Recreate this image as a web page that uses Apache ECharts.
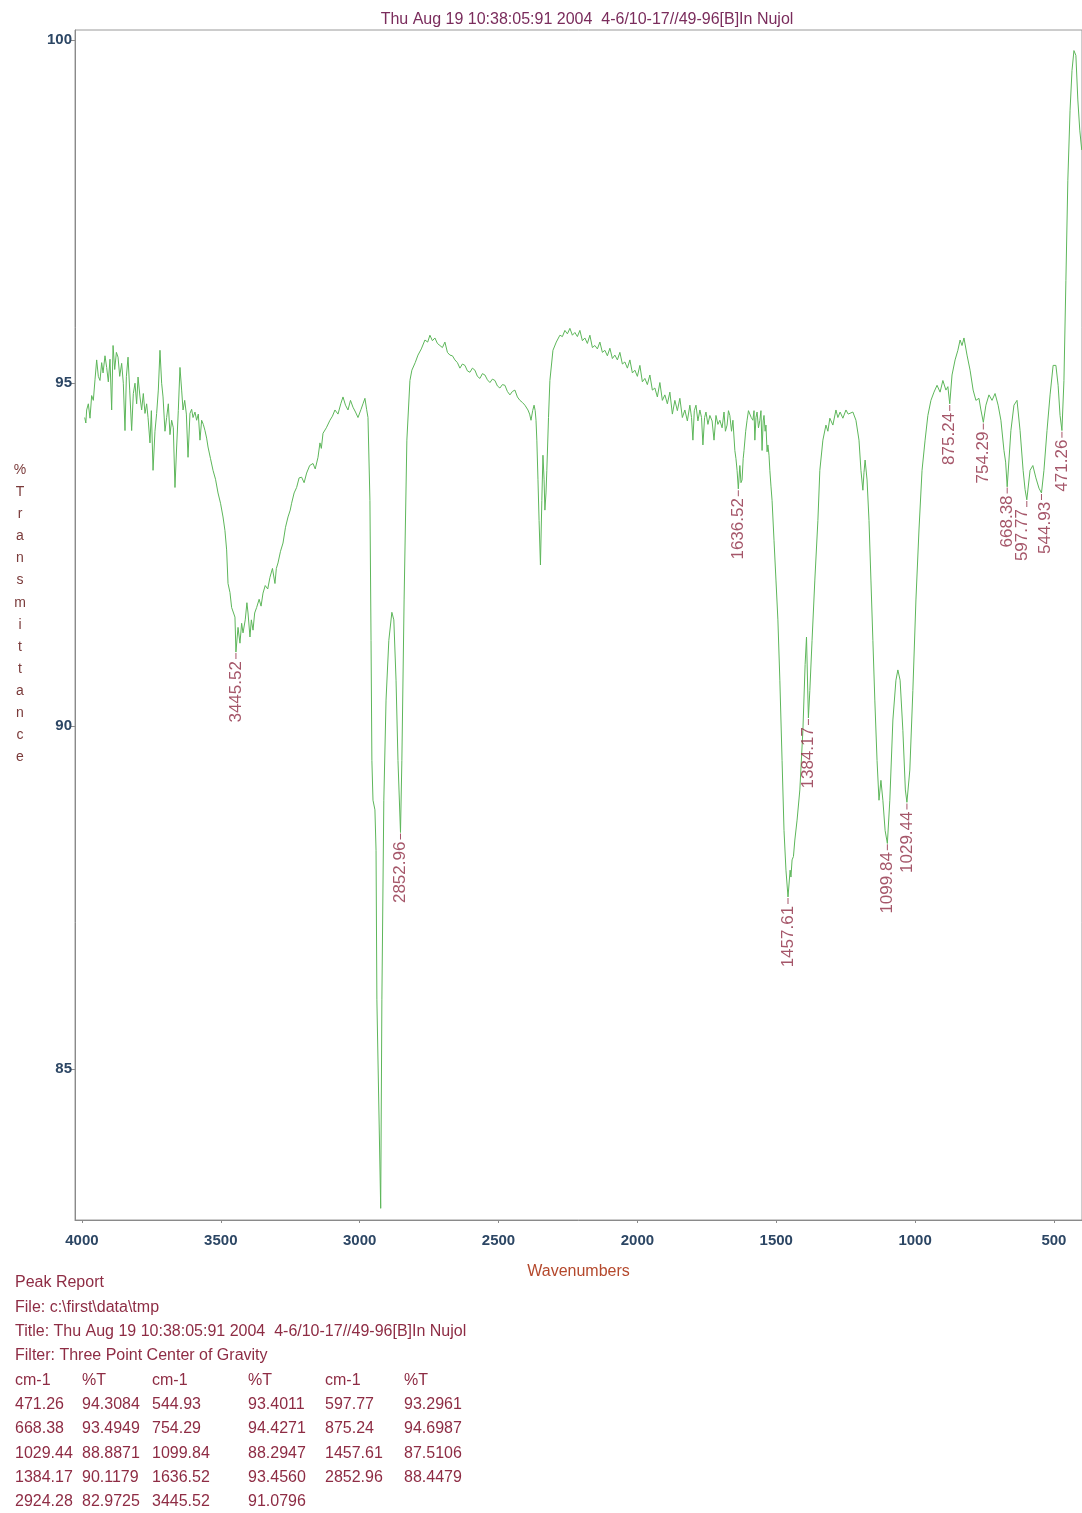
<!DOCTYPE html>
<html>
<head>
<meta charset="utf-8">
<script src="https://cdn.jsdelivr.net/npm/echarts@6/dist/echarts.min.js"></script>
<style>
  html, body { margin: 0; padding: 0; background: #fff; }
  #chart { width: 1082px; height: 1513px; }
</style>
</head>
<body>
<div id="chart"></div>
<script>
// axis ticks
const xTicks = [4000, 3500, 3000, 2500, 2000, 1500, 1000, 500];
const yTicks = [85, 90, 95, 100];

// spectrum: [cm-1, %T]
const spectrum = [
  [3990,94.50],[3986,94.42],[3983,94.61],[3977,94.70],[3971,94.49],[3965,94.82],[3959,94.75],[3953,95.05],
  [3947,95.34],[3941,95.10],[3935,95.04],[3929,95.30],[3924,95.15],[3917,95.40],[3911,95.23],[3905,95.02],
  [3899,95.35],[3893,94.61],[3888,95.55],[3882,95.20],[3876,95.45],[3870,95.38],[3864,95.10],[3857,95.29],
  [3851,95.00],[3845,94.31],[3840,95.10],[3834,95.38],[3828,94.90],[3821,94.31],[3815,94.85],[3809,95.00],
  [3803,94.70],[3798,95.09],[3791,94.80],[3785,94.61],[3779,94.85],[3773,94.56],[3767,94.70],[3762,94.50],
  [3755,94.13],[3750,94.60],[3744,93.73],[3737,94.30],[3731,94.56],[3725,94.90],[3719,95.48],[3713,95.00],
  [3708,94.80],[3701,94.30],[3695,94.50],[3689,94.70],[3683,94.25],[3677,94.46],[3671,94.35],[3665,93.48],
  [3659,94.07],[3653,94.60],[3647,95.23],[3641,94.90],[3636,94.61],[3630,94.75],[3624,94.55],[3618,93.92],
  [3611,94.56],[3605,94.62],[3600,94.50],[3593,94.58],[3587,94.46],[3581,94.55],[3575,94.17],[3569,94.46],
  [3563,94.40],[3557,94.31],[3551,94.20],[3546,94.07],[3537,93.90],[3528,93.73],[3519,93.60],[3510,93.40],
  [3501,93.25],[3492,93.05],[3485,92.85],[3479,92.57],[3474,92.08],[3467,91.95],[3461,91.73],[3455,91.75],
  [3449,91.59],[3445.52,91.08],[3438,91.44],[3431,91.21],[3425,91.50],[3420,91.36],[3412,91.55],[3406,91.80],
  [3402,91.65],[3395,91.30],[3390,91.55],[3384,91.40],[3378,91.65],[3371,91.73],[3362,91.85],[3355,91.75],
  [3348,91.94],[3340,92.05],[3331,92.00],[3323,92.17],[3314,92.30],[3305,92.08],[3300,92.30],[3294,92.38],
  [3285,92.55],[3276,92.67],[3267,92.90],[3258,93.05],[3250,93.15],[3245,93.25],[3236,93.40],[3227,93.48],
  [3218,93.62],[3209,93.63],[3200,93.55],[3191,93.69],[3180,93.80],[3168,93.83],[3160,93.75],[3150,93.92],
  [3143,94.13],[3138,94.05],[3132,94.27],[3120,94.35],[3107,94.46],[3098,94.52],[3089,94.61],[3078,94.55],
  [3068,94.70],[3060,94.80],[3051,94.68],[3042,94.61],[3033,94.75],[3024,94.65],[3015,94.58],[3006,94.50],
  [2995,94.62],[2988,94.70],[2981,94.78],[2975,94.62],[2970,94.50],[2963,93.29],[2959,91.25],[2956,89.50],
  [2952,88.92],[2945,88.78],[2941,88.19],[2938,86.01],[2924.28,82.97],[2920,86.01],[2913,88.92],[2905,90.38],
  [2895,91.25],[2884,91.66],[2877,91.55],[2869,90.67],[2862,89.50],[2852.96,88.45],[2848,89.50],[2840,91.84],
  [2830,94.17],[2819,95.04],[2812,95.19],[2800,95.30],[2790,95.41],[2778,95.50],[2765,95.63],[2755,95.60],
  [2747,95.70],[2738,95.62],[2729,95.66],[2720,95.58],[2711,95.55],[2702,95.52],[2693,95.60],[2684,95.45],
  [2675,95.41],[2666,95.40],[2657,95.34],[2648,95.30],[2639,95.22],[2630,95.28],[2621,95.26],[2612,95.18],
  [2603,95.16],[2594,95.22],[2585,95.19],[2576,95.10],[2567,95.07],[2558,95.14],[2549,95.12],[2540,95.05],
  [2531,95.01],[2522,95.06],[2513,95.04],[2504,94.96],[2495,94.93],[2486,94.98],[2477,94.97],[2468,94.88],
  [2459,94.83],[2450,94.88],[2441,94.90],[2432,94.80],[2423,94.75],[2414,94.72],[2405,94.68],[2394,94.61],
  [2388,94.55],[2383,94.46],[2377,94.60],[2372,94.68],[2368,94.60],[2365,94.46],[2362,94.17],[2358,93.60],
  [2354,93.00],[2349,92.35],[2344,93.29],[2340,93.95],[2336,93.60],[2333,93.15],[2329,93.40],[2326,93.73],
  [2320,94.50],[2315,95.04],[2304,95.48],[2292,95.60],[2279,95.70],[2270,95.68],[2261,95.77],[2252,95.72],
  [2243,95.80],[2234,95.70],[2225,95.74],[2216,95.68],[2207,95.77],[2198,95.62],[2189,95.66],[2180,95.58],
  [2171,95.70],[2162,95.52],[2153,95.55],[2144,95.50],[2135,95.60],[2126,95.45],[2117,95.48],[2108,95.40],
  [2099,95.51],[2090,95.36],[2081,95.41],[2072,95.34],[2063,95.45],[2054,95.28],[2045,95.31],[2036,95.22],
  [2027,95.34],[2018,95.15],[2009,95.19],[2000,95.10],[1991,95.26],[1982,95.02],[1973,95.07],[1964,94.98],
  [1955,95.12],[1946,94.90],[1937,94.93],[1928,94.80],[1919,95.01],[1910,94.75],[1901,94.83],[1892,94.70],
  [1883,94.87],[1874,94.55],[1865,94.75],[1856,94.60],[1847,94.78],[1838,94.50],[1829,94.61],[1820,94.45],
  [1811,94.68],[1805,94.50],[1800,94.17],[1795,94.60],[1789,94.68],[1782,94.45],[1775,94.61],[1769,94.50],
  [1764,94.10],[1758,94.50],[1753,94.58],[1746,94.40],[1739,94.53],[1731,94.45],[1724,94.17],[1717,94.53],
  [1710,94.40],[1703,94.46],[1695,94.35],[1688,94.58],[1683,94.30],[1677,94.39],[1672,94.60],[1667,94.53],
  [1661,94.30],[1656,94.46],[1649,94.02],[1645,93.90],[1641,93.73],[1636.52,93.46],[1631,93.80],[1627,93.55],
  [1623,93.59],[1619,93.90],[1616,94.02],[1610,94.30],[1605,94.46],[1600,94.60],[1595,94.58],[1590,94.50],
  [1584,94.46],[1580,94.60],[1577,94.17],[1573,94.50],[1569,94.58],[1564,94.35],[1559,94.46],[1555,94.60],
  [1551,94.02],[1547,94.45],[1544,94.53],[1540,94.30],[1537,94.39],[1533,94.00],[1530,94.10],[1526,93.95],
  [1523,93.73],[1519,93.50],[1515,93.29],[1508,92.71],[1501,92.13],[1494,91.55],[1487,90.67],[1479,89.50],
  [1472,88.48],[1465,87.90],[1457.61,87.51],[1450,87.90],[1447,87.80],[1443,88.05],[1438,88.10],[1433,88.34],
  [1425,88.63],[1415,89.07],[1404,89.94],[1396,90.90],[1391,91.30],[1387,90.60],[1384.17,90.12],[1379,90.52],
  [1371,91.25],[1361,92.13],[1350,93.00],[1343,93.73],[1332,94.17],[1321,94.39],[1314,94.30],[1307,94.49],
  [1296,94.39],[1285,94.61],[1278,94.50],[1270,94.58],[1260,94.49],[1249,94.61],[1241,94.55],[1234,94.53],
  [1224,94.58],[1213,94.46],[1202,94.17],[1195,93.73],[1188,93.44],[1184,93.70],[1180,93.88],[1173,93.59],
  [1166,93.00],[1159,92.13],[1152,91.25],[1145,90.38],[1137,89.50],[1130,88.92],[1123,89.21],[1116,88.92],
  [1108,88.48],[1099.84,88.29],[1091,88.92],[1080,90.09],[1069,90.67],[1062,90.82],[1054,90.67],[1044,89.94],
  [1035,89.07],[1029.44,88.89],[1019,89.36],[1008,90.52],[997,91.84],[986,92.86],[975,93.73],[964,94.17],
  [954,94.53],[943,94.75],[932,94.87],[921,94.97],[910,94.87],[900,95.04],[889,94.90],[882,94.95],
  [875.24,94.70],[867,95.12],[856,95.34],[846,95.48],[838,95.63],[831,95.55],[824,95.66],[813,95.41],
  [802,95.19],[791,94.90],[781,94.75],[770,94.78],[763,94.61],[754.29,94.43],[745,94.68],[734,94.83],
  [723,94.75],[712,94.85],[701,94.68],[691,94.46],[680,94.02],[674,93.85],[668.38,93.49],[662,93.88],
  [655,94.31],[644,94.68],[633,94.75],[622,94.31],[611,93.73],[604,93.45],[597.77,93.30],[586,93.73],
  [576,93.80],[565,93.62],[554,93.47],[544.93,93.40],[536,93.73],[525,94.31],[514,94.83],[503,95.26],
  [493,95.26],[485,94.97],[478,94.53],[471.26,94.31],[464,95.04],[457,96.50],[450,97.96],[442,98.98],
  [435,99.56],[428,99.85],[421,99.78],[414,99.13],[407,98.69],[400,98.40]
];

// peak report (same order as the printed table)
const peakWn = [471.26, 544.93, 597.77, 668.38, 754.29, 875.24, 1029.44, 1099.84, 1457.61, 1384.17, 1636.52, 2852.96, 2924.28, 3445.52];
const peakT = [94.3084, 93.4011, 93.2961, 93.4949, 94.4271, 94.6987, 88.8871, 88.2947, 87.5106, 90.1179, 93.4560, 88.4479, 82.9725, 91.0796];
const unlabeledPeaks = [2924.28];

const titleText = 'Thu Aug 19 10:38:05:91 2004  4-6/10-17//49-96[B]In Nujol';
const reportHead = [
  'Peak Report',
  'File: c:\\first\\data\\tmp',
  'Title: ' + titleText,
  'Filter: Three Point Center of Gravity'
];

const FONT = '"Liberation Sans", Arial, sans-serif';
const MAROON = '#8e2c44';

// crowded labels get nudged sideways (offset is in the rotated text frame)
const labelNudge = { 597.77: [0, -4], 544.93: [0, 4] };
const peakPoints = peakWn
  .map((w, i) => [w, peakT[i]])
  .filter(p => unlabeledPeaks.indexOf(p[0]) < 0)
  .map(p => labelNudge[p[0]] ? { value: p, label: { offset: labelNudge[p[0]] } } : p);

// build the report table
const graphics = [];
const rowY0 = 1283, rowStep = 24.3;
const colX = [15, 82, 152, 248, 325, 404];
reportHead.forEach((t, i) => {
  graphics.push({ type: 'text', x: 15, y: rowY0 + i * rowStep,
    style: { text: t, fill: MAROON, font: '16px ' + FONT, verticalAlign: 'middle' } });
});
const tableRows = [['cm-1', '%T', 'cm-1', '%T', 'cm-1', '%T']];
for (let i = 0; i < peakWn.length; i += 3) {
  const r = [];
  for (let j = i; j < Math.min(i + 3, peakWn.length); j++) {
    r.push(peakWn[j].toFixed(2), peakT[j].toFixed(4));
  }
  tableRows.push(r);
}
tableRows.forEach((r, ri) => {
  r.forEach((c, ci) => {
    graphics.push({ type: 'text', x: colX[ci], y: rowY0 + (4 + ri) * rowStep,
      style: { text: c, fill: MAROON, font: '16px ' + FONT, verticalAlign: 'middle' } });
  });
});
// title
graphics.push({ type: 'text', x: 587, y: 20,
  style: { text: titleText, fill: '#7a2c5c', font: '16px ' + FONT, align: 'center', verticalAlign: 'middle' } });
// vertical y axis name
graphics.push({ type: 'text', x: 20, y: 459,
  style: { text: '%Transmittance'.split('').join('\n'), fill: '#7a3a3a', font: '14px ' + FONT,
    lineHeight: 22.1, align: 'center', verticalAlign: 'top' } });

const chart = echarts.init(document.getElementById('chart'), null, { renderer: 'canvas' });
chart.setOption({
  animation: false,
  backgroundColor: '#ffffff',
  grid: { left: 75, right: 0, top: 30, bottom: 293, show: true, borderColor: '#9a9a9a', borderWidth: 1 },
  xAxis: {
    type: 'value', inverse: true, min: 399, max: 4025,
    name: 'Wavenumbers', nameLocation: 'middle', nameGap: 44,
    nameTextStyle: { color: '#b4482c', fontSize: 16, fontFamily: FONT },
    axisLine: { lineStyle: { color: '#8a8a8a', width: 1 } },
    axisTick: { customValues: xTicks, length: 3, inside: false, lineStyle: { color: '#8a8a8a' } },
    axisLabel: { customValues: xTicks, formatter: v => String(v), color: '#2c4664', fontSize: 15,
      fontWeight: 'bold', fontFamily: FONT, margin: 13 },
    splitLine: { show: false }
  },
  yAxis: {
    type: 'value', min: 82.8, max: 100.15,
    axisLine: { show: true, lineStyle: { color: '#8a8a8a', width: 1 } },
    axisTick: { show: true, customValues: yTicks, length: 4, lineStyle: { color: '#8a8a8a' } },
    axisLabel: { customValues: yTicks, color: '#2c4664', fontSize: 15, fontWeight: 'bold', fontFamily: FONT, margin: 3 },
    splitLine: { show: false }
  },
  graphic: graphics,
  series: [
    {
      type: 'line', data: spectrum, showSymbol: false, symbol: 'none',
      lineStyle: { color: '#5db65a', width: 1 }, z: 2
    },
    {
      type: 'scatter', data: peakPoints, silent: true, z: 5,
      symbol: 'rect', symbolSize: [1, 6], symbolOffset: [0, 4],
      itemStyle: { color: MAROON },
      label: {
        show: true, position: 'bottom', distance: 2, rotate: 90,
        align: 'right', verticalAlign: 'middle',
        formatter: p => p.value[0].toFixed(2),
        color: MAROON, fontSize: 17, fontFamily: FONT
      }
    }
  ]
});
</script>
</body>
</html>
